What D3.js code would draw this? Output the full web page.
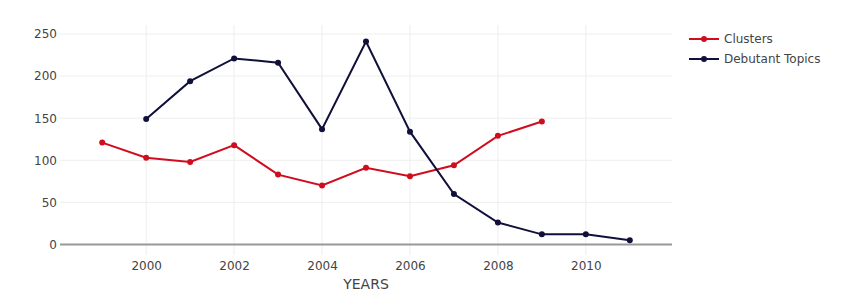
<!DOCTYPE html>
<html><head><meta charset="utf-8">
<script src="https://cdn.jsdelivr.net/npm/d3@7"></script>
<style>body{margin:0;background:#fff}svg{display:block;font-family:"DejaVu Sans",Verdana,sans-serif}</style>
</head><body><svg id="c" width="843" height="296"></svg>
<script>
const clusterYears = [1999,2000,2001,2002,2003,2004,2005,2006,2007,2008,2009];
const clusterValues = [121,103,98,118,83,70,91,81,94,129,146];
const debutYears = [2000,2001,2002,2003,2004,2005,2006,2007,2008,2009,2010,2011];
const debutValues = [149,194,221,216,137,241,134,60,26,12,12,5];
const xTicks = [2000,2002,2004,2006,2008,2010];
const yTicks = [0,50,100,150,200,250];
const seriesNames = ["Clusters","Debutant Topics"];
const seriesColors = ["#d00d1e","#10103a"];

const svg = d3.select("#c");
const L=60,R=672,T=25,B=255;
const x = d3.scaleLinear().domain([1998.04,2011.96]).range([L,R]);
const y = d3.scaleLinear().domain([-12.5,260.7]).range([B,T]);

const g = svg.append("g");
g.selectAll(".vg").data(xTicks).join("line").attr("x1",d=>x(d)).attr("x2",d=>x(d)).attr("y1",T).attr("y2",B).attr("stroke","#eee").attr("stroke-width",1);
g.selectAll(".hg").data(yTicks.filter(d=>d!==0)).join("line").attr("x1",L).attr("x2",R).attr("y1",d=>y(d)).attr("y2",d=>y(d)).attr("stroke","#eee").attr("stroke-width",1);
g.append("line").attr("x1",L).attr("x2",R).attr("y1",y(0)).attr("y2",y(0)).attr("stroke","#999").attr("stroke-width",2);

const xa = svg.append("g").attr("transform",`translate(0,${B})`).call(d3.axisBottom(x).tickValues(xTicks).tickFormat(d3.format("d")).tickSize(0).tickPadding(6.5));
const ya = svg.append("g").attr("transform",`translate(${L},0)`).call(d3.axisLeft(y).tickValues(yTicks).tickSize(0).tickPadding(3));
[xa,ya].forEach(a=>{a.select(".domain").remove();a.selectAll("text").attr("fill","#444").style("font-size","12px").style("font-family","'DejaVu Sans',sans-serif");});

svg.append("text").attr("x",(L+R)/2).attr("y",289).attr("text-anchor","middle").attr("fill","#444").style("font-size","14px").text("YEARS");

const line = d3.line().x(d=>x(d[0])).y(d=>y(d[1]));
const series = [d3.zip(clusterYears,clusterValues), d3.zip(debutYears,debutValues)];
series.forEach((s,i)=>{
  svg.append("path").datum(s).attr("d",line).attr("fill","none").attr("stroke",seriesColors[i]).attr("stroke-width",2);
  svg.append("g").selectAll("circle").data(s).join("circle").attr("cx",d=>x(d[0])).attr("cy",d=>y(d[1])).attr("r",3).attr("fill",seriesColors[i]);
});

const lg = svg.append("g");
seriesNames.forEach((n,i)=>{
  const yy = 39 + i*20;
  lg.append("line").attr("x1",689).attr("x2",719).attr("y1",yy).attr("y2",yy).attr("stroke",seriesColors[i]).attr("stroke-width",2);
  lg.append("circle").attr("cx",704).attr("cy",yy).attr("r",3).attr("fill",seriesColors[i]);
  lg.append("text").attr("x",724).attr("y",yy).attr("dy","0.36em").attr("fill","#444").style("font-size","12px").text(n);
});
</script></body></html>
